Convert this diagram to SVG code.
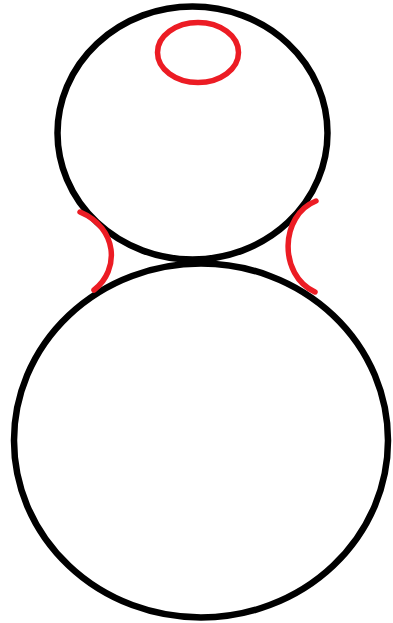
<svg xmlns="http://www.w3.org/2000/svg" width="393" height="623" viewBox="0 0 393 623">
<style>
.body{fill:none;stroke:#000;stroke-width:6.5}
.red{fill:none;stroke:#ec1c24;stroke-width:5.5;stroke-linecap:round}
</style>
<rect width="393" height="623" fill="#fff"/>
<g id="head">
<ellipse class="body" cx="192.5" cy="133" rx="135" ry="126.5"/>
</g>
<g id="bodyCircle">
<ellipse class="body" cx="201" cy="440.5" rx="187" ry="177"/>
</g>
<g id="marks">
<ellipse class="red" cx="198" cy="52.5" rx="40.5" ry="30"/>
<path class="red" d="M80,212 C118,228 120,270 94,290"/>
<path class="red" d="M316,201 C280,215 278,275 315,292"/>
</g>
</svg>
